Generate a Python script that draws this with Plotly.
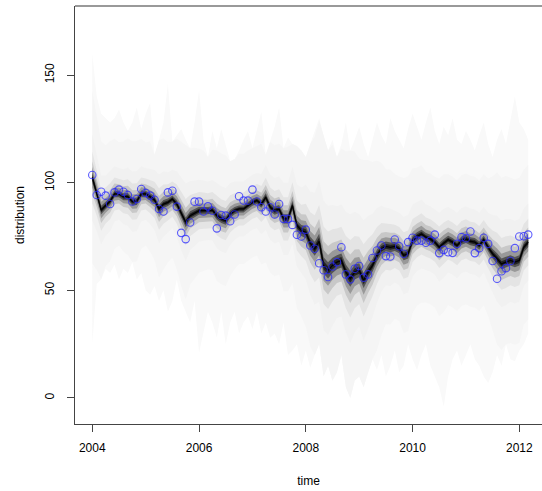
import plotly.graph_objects as go

# ---------------- data ----------------
start_year = 2004
n_months = 99
time = [start_year + i / 12 for i in range(n_months)]

observed = [
    103.6, 94.3, 95.8, 94.0, 90.1, 95.5, 96.8, 95.8, 94.3, 91.3,
    92.4, 97.1, 95.2, 94.0, 92.1, 87.8, 86.6, 95.5, 96.3, 88.9,
    76.7, 73.8, 81.5, 91.2, 91.2, 86.6, 89.0, 87.0, 78.8, 85.0,
    84.7, 82.1, 85.2, 93.7, 91.7, 91.7, 96.8, 91.3, 88.6, 86.6,
    88.6, 85.2, 90.1, 83.2, 83.2, 80.4, 75.8, 75.0, 78.2, 70.8,
    69.3, 62.6, 59.3, 56.2, 61.1, 63.1, 70.0, 57.4, 55.1, 60.0,
    61.3, 55.9, 57.4, 65.0, 68.5, 70.8, 65.9, 65.7, 73.6, 70.5,
    67.0, 72.4, 74.4, 73.1, 73.1, 72.1, 73.1, 75.9, 67.3, 68.8,
    67.7, 67.4, 71.6, 74.7, 74.2, 77.3, 67.3, 69.6, 74.4, 71.6,
    63.6, 55.4, 58.9, 60.3, 63.6, 69.6, 75.0, 75.1, 75.9,
]

median = [
    102.5, 95.5, 87.3, 89.4, 91.4, 94.8, 94.8, 93.5, 93.5, 91.2,
    91.4, 94.8, 94.8, 93.5, 92.0, 87.8, 90.1, 90.9, 92.4, 90.1,
    85.5, 81.6, 84.7, 85.8, 87.0, 87.0, 87.0, 87.3, 84.7, 83.2,
    82.4, 85.5, 87.0, 87.8, 87.8, 89.4, 90.9, 91.7, 90.1, 93.2,
    88.6, 87.0, 87.8, 83.2, 83.2, 89.4, 80.1, 77.8, 77.0, 71.9,
    69.3, 72.8, 61.6, 59.3, 61.6, 63.1, 63.9, 58.5, 55.4, 58.5,
    59.3, 54.6, 58.5, 61.6, 66.2, 69.3, 70.4, 70.0, 70.4, 69.3,
    66.2, 67.0, 73.1, 75.0, 76.2, 74.7, 73.9, 72.4, 70.0, 71.9,
    73.5, 72.4, 70.8, 73.1, 73.9, 72.8, 72.4, 70.8, 73.5, 70.0,
    67.0, 64.7, 62.3, 63.1, 63.9, 63.1, 63.9, 70.0, 72.4,
]

spread = [
    5.0, 4.5, 4.0, 3.5, 3.5, 3.2, 3.0, 3.2, 3.4, 3.5,
    3.5, 3.2, 3.0, 3.2, 3.5, 4.0, 3.8, 3.5, 3.4, 3.8,
    4.2, 4.5, 4.0, 3.8, 3.6, 3.5, 3.4, 3.5, 3.8, 3.8,
    3.8, 3.6, 3.4, 3.2, 3.2, 3.2, 3.2, 3.2, 3.5, 3.8,
    3.8, 3.8, 3.8, 4.2, 4.2, 4.5, 4.8, 5.0, 5.5, 6.0,
    6.5, 7.0, 7.5, 7.5, 7.0, 6.5, 6.5, 7.0, 7.5, 7.0,
    6.5, 7.0, 6.5, 6.0, 5.5, 5.0, 4.5, 4.5, 4.2, 4.2,
    4.5, 4.5, 4.2, 4.0, 4.0, 3.8, 3.8, 3.8, 4.0, 4.0,
    3.8, 3.8, 3.8, 3.8, 3.8, 3.8, 3.8, 3.8, 3.8, 4.0,
    4.5, 5.0, 5.0, 5.0, 4.8, 4.8, 4.8, 4.5, 4.5,
]

upper_outer = [
    160, 140, 132, 130, 128, 130, 134, 128, 124, 128,
    135, 125, 132, 137, 113, 120, 128, 146, 119, 122,
    125, 120, 116, 128, 143, 120, 112, 124, 116, 125,
    118, 110, 111, 115, 120, 124, 116, 125, 133, 113,
    120, 126, 135, 116, 121, 118, 117, 115, 112, 118,
    125, 130, 122, 115, 120, 112, 118, 128, 115, 120,
    126, 118, 112, 120, 128, 122, 118, 130, 124, 120,
    116, 125, 132, 126, 120, 128, 135, 124, 118, 126,
    122, 130, 120, 118, 124, 120, 115, 122, 128, 118,
    112, 120, 125, 118, 130, 140, 128, 125, 120,
]

lower_outer = [
    25, 53, 55, 60, 58, 62, 55, 60, 58, 63,
    55, 58, 50, 48, 52, 45, 50, 40, 45, 55,
    45, 40, 35, 45, 21, 30, 40, 35, 28, 40,
    25, 35, 40, 30, 35, 38, 32, 40, 30, 35,
    28, 30, 25, 35, 20, 22, 25, 15, 22, 14,
    20, 25, 10, 15, 8, 12, 20, 5, 0, 8,
    10, 5, 12, 18, 13, 20, 10, 15, 22, 12,
    15, 25, 18, 13, 20, 25, 15, 10, 5, -4,
    10, 18, 22, 15, 20, 25, 18, 15, 10, 7,
    12, 20, 15, 25, 18, 17, 22, 25, 30,
]

x_ticks = [2004, 2006, 2008, 2010, 2012]
y_ticks = [0, 50, 100, 150]

# fan levels: multiples of the core spread, outer to inner, with grey shades
fan_levels = [8.0, 4.0, 2.4, 1.5, 0.95, 0.5, 0.25]
fan_colors = ["#f5f5f5", "#f1f1f1", "#e4e4e4", "#c8c8c8", "#999999",
              "#555555", "#222222"]

# ---------------- figure ----------------
fig = go.Figure()

def band(lo, hi, color):
    fig.add_trace(go.Scatter(
        x=time + time[::-1], y=hi + lo[::-1],
        fill="toself", fillcolor=color, mode="lines",
        line=dict(width=0, color=color), hoverinfo="skip", showlegend=False,
    ))

band(lower_outer, upper_outer, "#f9f9f9")
for k, col in zip(fan_levels, fan_colors):
    hi = [min(m + k * s, u) for m, s, u in zip(median, spread, upper_outer)]
    lo = [max(m - k * s, l) for m, s, l in zip(median, spread, lower_outer)]
    band(lo, hi, col)

fig.add_trace(go.Scatter(
    x=time, y=median, mode="lines",
    line=dict(color="#000000", width=1.3), hoverinfo="skip", showlegend=False,
))

fig.add_trace(go.Scatter(
    x=time, y=observed, mode="markers",
    marker=dict(symbol="circle-open", size=7.5, color="rgba(40,40,255,0.75)",
                line=dict(width=1.1)),
    showlegend=False,
))

font = dict(family="Liberation Sans, Arial, sans-serif", size=12, color="#000000")

fig.update_layout(
    width=542, height=491,
    margin=dict(l=75, r=0, t=6, b=67),
    paper_bgcolor="white", plot_bgcolor="white",
    font=font,
    showlegend=False,
    xaxis=dict(
        range=[2003.676, 2012.425], tickvals=x_ticks,
        ticktext=[str(v) for v in x_ticks],
        ticks="outside", ticklen=7, tickcolor="#444", tickwidth=1,
        showline=True, linecolor="#444", linewidth=1,
        showgrid=False, zeroline=False,
        ticklabelstandoff=6,
        title=dict(text="time", font=font, standoff=22),
    ),
    yaxis=dict(
        range=[-12.1, 182.1], tickvals=y_ticks,
        ticktext=[str(v) for v in y_ticks],
        tickangle=-90,
        ticks="outside", ticklen=7, tickcolor="#444", tickwidth=1,
        showline=True, linecolor="#444", linewidth=1,
        showgrid=False, zeroline=False,
        ticklabelstandoff=8,
        title=dict(text="distribution", font=font, standoff=16),
    ),
    shapes=[dict(type="line", xref="paper", yref="paper",
                 x0=0, x1=1, y0=1, y1=1,
                 line=dict(color="#777", width=1.5))],
)

fig.write_html("out.html")
